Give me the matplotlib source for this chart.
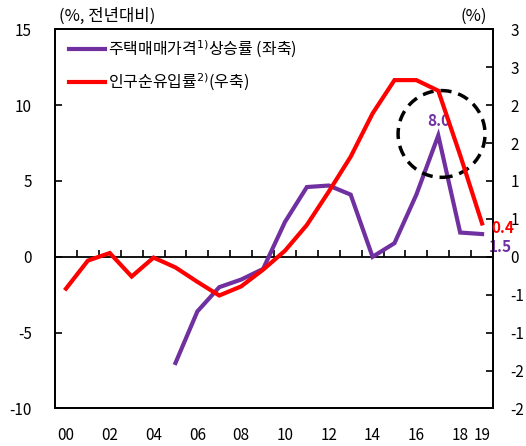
import numpy as np
import matplotlib
matplotlib.use('Agg')
import matplotlib.pyplot as plt
from matplotlib.patches import Ellipse

plt.rcParams['font.family'] = ['Noto Sans CJK KR', 'DejaVu Sans']
plt.rcParams['mathtext.fontset'] = 'dejavusans'
plt.rcParams['axes.unicode_minus'] = False

# data
years = ['00', '01', '02', '03', '04', '05', '06', '07', '08', '09',
         '10', '11', '12', '13', '14', '15', '16', '17', '18', '19']
house_price = [np.nan, np.nan, np.nan, np.nan, np.nan, -7.0, -3.6, -2.0, -1.5, -0.8,
               2.3, 4.6, 4.7, 4.1, 0.0, 0.9, 4.1, 8.0, 1.6, 1.5]
pop_inflow = [-0.42, -0.05, 0.05, -0.26, -0.01, -0.14, -0.33, -0.51, -0.39, -0.17,
              0.08, 0.42, 0.86, 1.32, 1.89, 2.33, 2.33, 2.19, 1.34, 0.44]
xtick_years = ['00', '02', '04', '06', '08', '10', '12', '14', '16', '18', '19']
right_ticks = [-2, -1.5, -1, -0.5, 0, 0.5, 1, 1.5, 2, 2.5, 3]
right_labels = ['-2', '-2', '-1', '-1', '0', '1', '1', '2', '2', '3', '3']

purple = '#7030A0'
red = '#FF0000'
x = np.arange(len(years))

fig = plt.figure(figsize=(5.26, 4.46), dpi=100)
ax = fig.add_axes([0.1046, 0.0841, 0.8327, 0.8502])
ax2 = ax.twinx()

ax.plot(x, house_price, color=purple, lw=3, solid_joinstyle='miter', zorder=3,
        label='주택매매가격$^{1)}$상승률 (좌축)')
ax2.plot(x, pop_inflow, color=red, lw=3, solid_joinstyle='miter', zorder=3,
         label='인구순유입률$^{2)}$(우축)')

ax.set_xlim(-0.5, len(years) - 0.5)
ax.set_ylim(-10, 15)
ax.set_yticks([-10, -5, 0, 5, 10, 15])
ax2.set_ylim(-2, 3)
ax2.set_yticks(right_ticks)
ax2.set_yticklabels(right_labels)

ax.set_xticks([years.index(y) for y in xtick_years])
ax.set_xticklabels(xtick_years)
ax.tick_params(axis='x', length=0, pad=13, labelsize=11)
ax.tick_params(axis='y', direction='in', length=5, width=1.2, pad=16.5, labelsize=11)
ax2.tick_params(axis='y', direction='in', length=5, width=1.2, pad=12.5, labelsize=11)
for sp in ax.spines.values():
    sp.set_linewidth(1.3)
for sp in ax2.spines.values():
    sp.set_linewidth(1.3)

# zero axis with ticks at category boundaries
zero_ax = ax.secondary_xaxis(10 / 25)
zero_ax.set_xticks(np.arange(0.5, len(years) - 0.5, 1))
zero_ax.tick_params(direction='in', length=5, width=1.2, labelbottom=False, labeltop=False)
zero_ax.spines['bottom'].set_linewidth(1.3)

# value labels
ax.annotate('8.0', (17, house_price[17]), xytext=(0, 5), textcoords='offset points',
            ha='center', va='bottom', color=purple, fontweight='bold', fontsize=11)
ax.annotate('1.5', (19, house_price[19]), xytext=(5, -9), textcoords='offset points',
            ha='left', va='center', color=purple, fontweight='bold', fontsize=11,
            annotation_clip=False)
ax2.annotate('0.4', (19, pop_inflow[19]), xytext=(7, -3), textcoords='offset points',
             ha='left', va='center', color=red, fontweight='bold', fontsize=11,
             annotation_clip=False)

# dashed circle highlight
ax.add_patch(Ellipse((17.15, 8.1), 3.97, 5.72, fill=False, ec='black', lw=2.5,
                     ls=(0, (3.2, 2)), zorder=4))

ax.text(0.01, 1.012, '(%, 전년대비)', transform=ax.transAxes, fontsize=12,
        ha='left', va='bottom')
ax.text(0.955, 1.012, '(%)', transform=ax.transAxes, fontsize=12,
        ha='center', va='bottom')

h1, l1 = ax.get_legend_handles_labels()
h2, l2 = ax2.get_legend_handles_labels()
ax2.legend(h1 + h2, l1 + l2, loc='upper left', bbox_to_anchor=(0.0, 1.012),
           frameon=False, fontsize=11.5, handlelength=2.2, handletextpad=0.2,
           labelspacing=0.75, borderaxespad=0.5)

fig.savefig('out.png', dpi=100)
